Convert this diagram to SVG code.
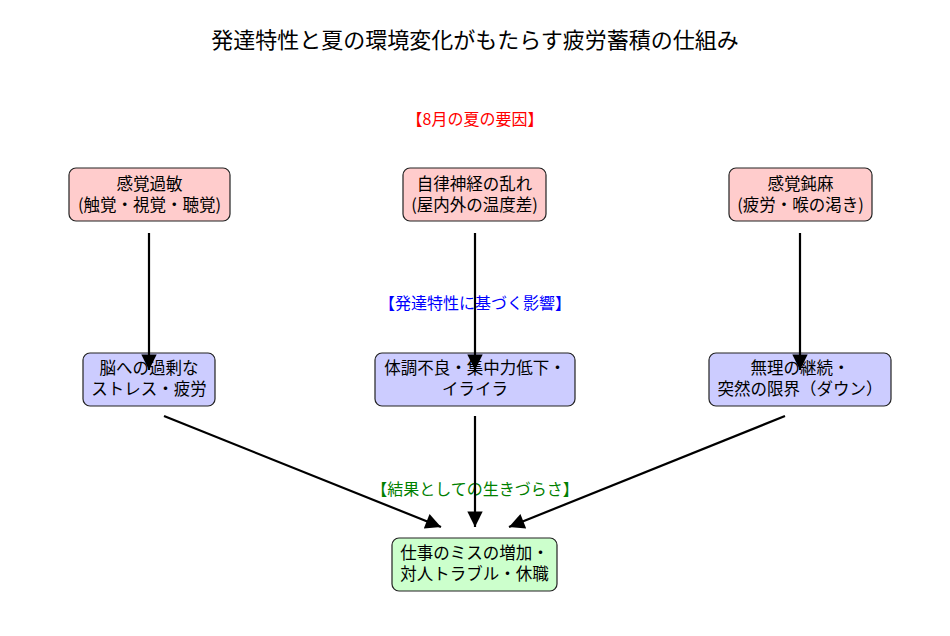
<svg xmlns="http://www.w3.org/2000/svg" width="950" height="636" viewBox="0 0 950 636">
<defs>
<marker id="ah" viewBox="0 0 10 10" refX="10" refY="5" markerWidth="7.5" markerHeight="7" markerUnits="strokeWidth" orient="auto">
<path d="M0,0 L10,5 L0,10 z" fill="#000"/>
</marker>
<style>
text{font-family:"Noto Sans CJK JP","Noto Sans",sans-serif;text-anchor:middle}
.t{font-size:22px;fill:#000}
.n{font-size:16.5px;fill:#000}
.s{font-size:16px}
.box rect{stroke:#222;stroke-width:1.2}
.r rect{fill:#ffcccc}
.b rect{fill:#ccccff}
.g rect{fill:#ccffcc}
.c line{stroke:#000;stroke-width:2.2;marker-end:url(#ah)}
</style>
</defs>
<rect width="950" height="636" fill="#fff"/>
<text class="t" x="475" y="48">発達特性と夏の環境変化がもたらす疲労蓄積の仕組み</text>
<text class="s" x="475" y="125" fill="#ff0000">【8月の夏の要因】</text>
<text class="s" x="475" y="309" fill="#0000ff">【発達特性に基づく影響】</text>
<text class="s" x="475" y="495" fill="#008000">【結果としての生きづらさ】</text>

<g id="n1" class="box r"><rect x="69" y="168" width="161" height="53" rx="7"/><text class="n" x="149.5" y="190">感覚過敏</text><text class="n" x="149.5" y="211">(触覚・視覚・聴覚)</text></g>
<g id="n2" class="box r"><rect x="403" y="168" width="143" height="53" rx="7"/><text class="n" x="474.5" y="190">自律神経の乱れ</text><text class="n" x="474.5" y="211">(屋内外の温度差)</text></g>
<g id="n3" class="box r"><rect x="729" y="168" width="143" height="53" rx="7"/><text class="n" x="800.5" y="190">感覚鈍麻</text><text class="n" x="800.5" y="211">(疲労・喉の渇き)</text></g>

<g id="n4" class="box b"><rect x="83" y="353" width="132" height="53" rx="7"/><text class="n" x="149" y="374">脳への過剰な</text><text class="n" x="149" y="395">ストレス・疲労</text></g>
<g id="n5" class="box b"><rect x="375" y="353" width="200" height="53" rx="7"/><text class="n" x="475" y="374">体調不良・集中力低下・</text><text class="n" x="475" y="395">イライラ</text></g>
<g id="n6" class="box b"><rect x="709" y="353" width="182" height="53" rx="7"/><text class="n" x="800" y="374">無理の継続・</text><text class="n" x="800" y="395">突然の限界（ダウン）</text></g>

<g id="n7" class="box g"><rect x="392" y="538" width="165" height="53" rx="7"/><text class="n" x="474.5" y="559">仕事のミスの増加・</text><text class="n" x="474.5" y="580">対人トラブル・休職</text></g>

<g id="connectors" class="c">
<line x1="149" y1="233" x2="149" y2="370"/>
<line x1="475" y1="233" x2="475" y2="370"/>
<line x1="800" y1="233" x2="800" y2="370"/>
<line x1="164" y1="416" x2="441" y2="527"/>
<line x1="475" y1="416" x2="475" y2="527"/>
<line x1="785" y1="416" x2="509" y2="527"/>
</g>
</svg>
